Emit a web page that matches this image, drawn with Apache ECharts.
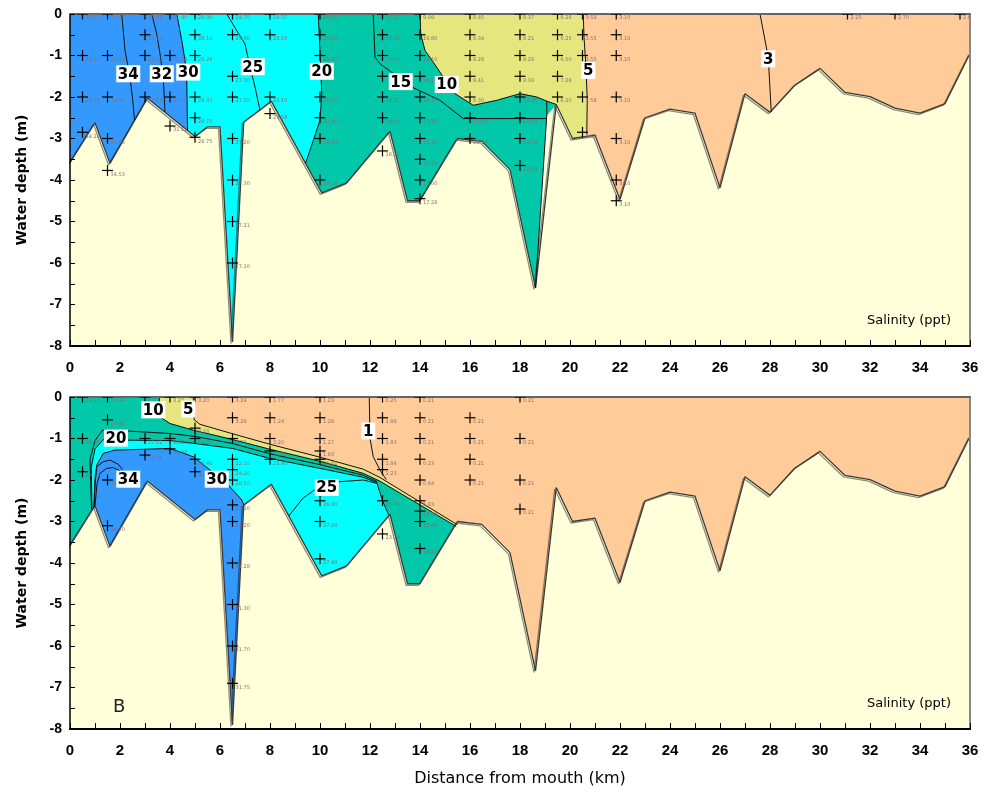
<!DOCTYPE html>
<html>
<head>
<meta charset="utf-8">
<script src="https://cdn.jsdelivr.net/npm/echarts@6/dist/echarts.min.js"></script>
<style>
html,body{margin:0;padding:0;background:#fff}
#chart{width:987px;height:792px}
</style>
</head>
<body>
<div id="chart"></div>
<script>
// ---- Seabed profile along the transect (km from mouth, depth in m) ----
const bedX = [0, 1.0, 1.6, 3.1, 5.0, 5.5, 6.0, 6.5, 6.95, 8.05, 10.07, 11.07, 12.8, 13.5, 14.0, 15.5, 16.47, 17.6, 18.62, 19.45, 20.1, 21.0, 22.0, 23.0, 24.0, 25.0, 26.0, 27.0, 28.0, 29.0, 30.0, 31.0, 32.0, 33.0, 34.0, 35.0, 36.0];
const bedZ = [-3.58, -2.62, -3.6, -2.03, -2.95, -2.72, -2.72, -7.9, -2.6, -2.1, -4.31, -4.07, -2.83, -4.5, -4.5, -3.0, -3.07, -3.75, -6.6, -2.18, -3.0, -2.92, -4.47, -2.5, -2.29, -2.39, -4.19, -1.92, -2.37, -1.71, -1.31, -1.89, -1.99, -2.27, -2.39, -2.16, -0.95];

// ---- Panel A isohalines (salinity contours), [km, depth] ----
const topC34 = [[2.07, 0], [2.2, -0.88], [2.4, -1.52], [2.51, -2.08], [2.58, -2.55]];
const topC32 = [[3.27, 0], [3.47, -0.48], [3.6, -0.96], [3.73, -1.52], [3.8, -2.36]];
const topC30 = [[4.27, 0], [4.47, -0.64], [4.6, -1.12], [4.67, -1.6], [4.7, -2.8]];
const topC25 = [[6.27, 0], [6.67, -0.4], [7.0, -0.72], [7.2, -1.28], [7.4, -1.76], [7.6, -2.32]];
const topC20 = [[9.93, 0], [10.0, -0.88], [10.07, -1.92], [10.0, -2.56], [9.73, -3.05], [9.42, -3.6]];
const topC15 = [[12.13, 0], [12.2, -1.04], [12.4, -1.2], [13.67, -1.76], [14.8, -2.08], [15.73, -2.52], [18.0, -2.52], [19.07, -2.52]];
const topC10 = [[14.0, 0], [14.03, -0.48], [14.2, -0.88], [14.53, -1.16], [14.93, -1.52], [15.4, -1.92], [16.13, -2.2], [17.07, -2.08], [18.0, -1.92], [18.67, -2.0], [19.07, -2.1], [19.45, -2.18]];
const topC5 = [[20.53, 0], [20.56, -0.56], [20.64, -1.28], [20.69, -2.08], [20.67, -2.9]];
const topC3 = [[27.6, 0], [27.93, -1.04], [28.05, -2.36]];
// unsampled pocket beside the deep hole at 18.6 km
const topGap = [[19.07, -2.45], [18.62, -6.6], [19.45, -2.18]];
const topGapEdge = [[19.07, -2.1], [19.07, -2.45], [18.62, -6.6]];

// ---- Panel B isohalines ----
const botC5 = [[4.93, 0], [4.97, -0.55], [5.2, -0.66], [6.47, -0.88], [8.0, -1.14], [10.0, -1.45], [11.73, -1.74], [12.4, -1.94], [15.5, -3.08]];
const botC10 = [[3.57, 0], [3.6, -0.48], [4.0, -0.64], [4.93, -0.8], [6.47, -1.02], [8.0, -1.26], [10.0, -1.55], [11.73, -1.84], [12.4, -2.03], [15.45, -3.12]];
const botC15 = [[0.86, -2.7], [0.8, -1.5], [1.0, -1.05], [1.3, -0.8], [2.3, -0.82], [4.0, -0.88], [5.0, -0.95], [6.5, -1.12], [8.0, -1.37], [10.0, -1.63], [11.7, -1.88], [12.3, -2.04]];
const botC20 = [[0.88, -2.73], [0.85, -1.7], [1.0, -1.25], [1.35, -1.02], [2.3, -1.04], [4.0, -1.05], [5.0, -1.12], [6.5, -1.24], [8.0, -1.48], [10.0, -1.72], [11.7, -1.93], [12.27, -2.06], [12.5, -2.5], [12.75, -2.85]];
const botC25 = [[8.75, -2.87], [9.3, -2.45], [9.87, -2.2], [10.8, -2.04], [11.73, -2.0], [12.27, -2.08]];
const botC30 = [[0.95, -2.67], [1.0, -2.0], [1.07, -1.64], [1.33, -1.36], [1.8, -1.28], [2.93, -1.26], [4.0, -1.24], [4.93, -1.44], [5.6, -1.76], [6.27, -2.08], [6.87, -2.48], [6.95, -2.6]];
const botC32 = [[0.97, -2.64], [1.0, -2.1], [1.07, -1.68], [1.33, -1.56], [1.6, -1.52], [1.93, -1.62], [2.1, -1.75]];
const botC34 = [[1.0, -2.62], [1.08, -2.1], [1.2, -1.84], [1.47, -1.72], [1.73, -1.7], [2.07, -1.8], [2.2, -1.95]];
const botC1 = [[11.97, 0], [12.0, -1.0], [12.13, -1.44], [12.4, -1.76], [12.65, -1.99]];

// ---- Contour labels ----
const topLabX = [2.33, 3.67, 4.73, 7.31, 10.07, 13.23, 15.07, 20.73, 27.93];
const topLabZ = [-1.44, -1.44, -1.4, -1.27, -1.38, -1.63, -1.7, -1.36, -1.08];
const topLabT = ['34', '32', '30', '25', '20', '15', '10', '5', '3'];
const botLabX = [3.33, 4.73, 1.84, 2.33, 5.87, 10.27, 11.93];
const botLabZ = [-0.31, -0.29, -0.99, -1.98, -1.98, -2.18, -0.82];
const botLabT = ['10', '5', '20', '34', '30', '25', '1'];

// ---- Sampling stations: distance, sample depths, measured salinity ----
const topStnX = [0.5, 1.5, 3, 4, 5, 6.5, 8, 10, 12.5, 14, 16, 18, 19.5, 20.5, 21.85, 31.1, 33.0, 35.6];
const topStnZ = [
  [0, -1, -2, -2.85], [0, -1, -2, -3, -3.77], [0, -0.5, -1, -2], [0, -1, -2, -2.7],
  [0, -0.5, -1, -2, -2.5, -2.97], [0, -0.5, -1.5, -2, -3, -4, -5, -6], [0, -0.5, -2, -2.4],
  [0, -0.5, -1, -2, -2.5, -3, -4], [0, -0.5, -1, -1.5, -2, -2.5, -3.3],
  [0, -0.5, -1, -1.5, -2, -2.5, -3, -3.5, -4, -4.45], [0, -0.5, -1, -1.5, -2, -2.5, -3],
  [0, -0.5, -1, -1.5, -2, -2.5, -3, -3.65], [0, -0.5, -1, -1.5, -2], [0, -0.5, -1, -2, -2.85],
  [0, -0.5, -1, -2, -3, -4, -4.5], [0], [0], [0]
];
const topStnS = [
  [34.71, 34.20, 34.21, 34.28], [34.45, 34.03, 34.37, 34.03, 34.53], [33.83, 33.74, 33.60, 33.81], [31.40, 31.20, 31.00, 31.12],
  [28.30, 28.14, 28.28, 28.37, 28.75, 28.75], [24.75, 25.90, 27.10, 27.20, 27.20, 27.30, 27.21, 27.10], [23.37, 23.10, 23.10, 23.58],
  [20.20, 20.20, 20.30, 20.10, 20.40, 19.24, 19.24], [15.37, 15.22, 15.40, 16.20, 16.25, 16.55, 18.15],
  [9.99, 10.80, 11.10, 14.20, 16.20, 17.28, 17.30, 17.30, 17.00, 17.28], [8.45, 8.34, 8.28, 8.41, 8.30, 13.53, 13.70],
  [8.37, 8.21, 8.29, 8.33, 13.20, 13.28, 13.28, 13.28], [6.28, 6.25, 6.50, 7.28, 6.20], [3.58, 3.55, 3.55, 3.58, 3.60],
  [3.10, 3.10, 3.10, 3.10, 3.10, 3.10, 3.10], [2.25], [2.70], [2.83]
];
const botStnX = [0.5, 1.5, 3, 4, 5, 6.5, 8, 10, 12.5, 14, 16, 18];
const botStnZ = [
  [0, -1, -1.8], [0, -0.55, -2, -3.1], [0, -1, -1.4], [0, -1, -1.25], [0, -0.75, -1, -1.5, -1.8],
  [0, -0.5, -1, -1.5, -1.75, -2, -2.6, -3, -4, -5, -6, -6.9], [0, -0.5, -1, -1.3, -1.5],
  [0, -0.5, -1, -1.3, -1.5, -2.5, -3, -3.9], [0, -0.5, -1, -1.5, -1.75, -2.5, -3.3],
  [0, -0.5, -1, -1.5, -2, -2.5, -2.75, -3, -3.65], [-0.5, -1, -1.5, -2], [0, -1, -2, -2.7]
];
const botStnS = [
  [13.23, 13.30, 13.80], [13.40, 15.80, 34.20, 34.20], [8.17, 15.62, 33.20], [3.23, 18.25, 31.90], [3.20, 8.33, 18.26, 30.40, 30.60],
  [3.24, 3.28, 8.21, 22.10, 24.20, 28.50, 31.20, 31.20, 31.28, 31.30, 31.70, 31.75], [1.77, 1.24, 3.20, 15.80, 23.80],
  [1.23, 1.28, 1.27, 1.83, 21.81, 26.80, 27.80, 27.40], [0.25, 1.88, 1.83, 1.84, 1.23, 25.70, 23.20],
  [0.21, 0.21, 0.21, 0.23, 0.84, 1.83, 10.90, 18.80, 18.10], [0.21, 0.21, 0.21, 0.21], [0.21, 0.21, 0.21, 0.21]
];

// ---- Salinity class colours ----
const COL_GT30 = '#3399FF';
const COL_20_30 = '#00FFFF';
const COL_10_20 = '#00C8A8';
const COL_5_10 = '#E6E67E';
const COL_LT5 = '#FFCC99';
const COL_BED = '#FFFFDA';

const FONT_TICK = '"Liberation Sans Narrow","Liberation Sans",Arial,sans-serif';
const FONT_TXT = '"DejaVu Sans",sans-serif';
const ZDEEP = -8.5;

// ---- Geometry helpers (data space) ----
const bedLine = bedX.map((x, i) => [x, bedZ[i]]);
const bedMask = bedLine.concat([[36, ZDEEP], [0, ZDEEP]]);
const fullRect = [[0, 0], [36, 0], [36, ZDEEP], [0, ZDEEP]];
// water on the seaward side of a contour that starts at the surface
const seaward = c => [[0, 0]].concat(c, [[c[c.length - 1][0], ZDEEP], [0, ZDEEP]]);
// water beneath a contour that starts and ends on the bed
const beneath = c => c.concat([[c[c.length - 1][0], ZDEEP], [c[0][0], ZDEEP]]);

function polySeries(g, polys, fills, z) {
  return {
    type: 'custom', xAxisIndex: g * 2, yAxisIndex: g * 2, clip: true, silent: true, z: z,
    data: polys.map((p, i) => i),
    renderItem: function (params, api) {
      const i = params.dataIndex;
      return {
        type: 'polygon',
        shape: { points: polys[i].map(p => api.coord(p)) },
        style: { fill: fills[i], stroke: fills[i] === COL_BED ? null : fills[i], lineWidth: 0.3 }
      };
    }
  };
}

function lineSeries(g, pts, style, z) {
  return {
    type: 'line', xAxisIndex: g * 2, yAxisIndex: g * 2, data: pts, symbol: 'none', showSymbol: false,
    silent: true, z: z, clip: true, lineStyle: style, emphasis: { disabled: true }
  };
}

// Boxed isohaline values
function labelSeries(g, xs, zs, texts) {
  return {
    type: 'custom', xAxisIndex: g * 2, yAxisIndex: g * 2, silent: true, z: 8, clip: false,
    data: xs.map((x, i) => [x, zs[i], i]),
    renderItem: function (params, api) {
      const c = api.coord([api.value(0), api.value(1)]);
      const t = texts[api.value(2)];
      const w = t.length * 10 + 4, h = 17;
      return {
        type: 'group',
        children: [
          { type: 'rect', shape: { x: c[0] - w / 2, y: c[1] - h / 2, width: w, height: h }, style: { fill: '#fff' } },
          { type: 'text', x: c[0], y: c[1] + 1, style: { text: t, fontFamily: FONT_TXT, fontWeight: 'bold', fontSize: 15, fill: '#000', align: 'center', verticalAlign: 'middle' } }
        ]
      };
    }
  };
}

function stationSeries(g, xs, zs, vals) {
  const pts = [];
  xs.forEach((x, i) => zs[i].forEach((z, j) => pts.push([x, z, vals[i][j]])));
  return {
    type: 'custom', xAxisIndex: g * 2, yAxisIndex: g * 2, clip: true, silent: true, z: 7,
    data: pts,
    renderItem: function (params, api) {
      const c = api.coord([api.value(0), api.value(1)]);
      const h = 5.5;
      return {
        type: 'group',
        children: [
          { type: 'line', shape: { x1: c[0] - h, y1: c[1], x2: c[0] + h, y2: c[1] }, style: { stroke: '#000', lineWidth: 1.2 } },
          { type: 'line', shape: { x1: c[0], y1: c[1] - h, x2: c[0], y2: c[1] + h }, style: { stroke: '#000', lineWidth: 1.2 } },
          { type: 'text', x: c[0] + 3, y: c[1] + 1.5, style: { text: api.value(2).toFixed(2), fontSize: 5, fontFamily: FONT_TXT, fill: '#8a6f72' } }
        ]
      };
    }
  };
}

const contourStyle = { color: '#111', width: 1 };
const bedStyle = { color: '#3a3a3a', width: 1.3, shadowColor: 'rgba(0,0,0,0.45)', shadowBlur: 0, shadowOffsetX: -1.5, shadowOffsetY: 1.5 };

function xAxes(g, named) {
  return [
    {
      type: 'value', gridIndex: g, min: 0, max: 36, interval: 2, position: 'bottom', z: 6,
      axisLine: { show: true, onZero: false, lineStyle: { color: '#000', width: 2 } },
      axisTick: { show: true, inside: true, length: 6, lineStyle: { color: '#000', width: 1 } },
      minorTick: { show: true, splitNumber: 2, length: 6, lineStyle: { color: '#000', width: 1 } },
      axisLabel: { color: '#000', fontFamily: FONT_TICK, fontWeight: 'bold', fontSize: 15, margin: 14 },
      splitLine: { show: false }, minorSplitLine: { show: false },
      name: named ? 'Distance from mouth (km)' : '', nameLocation: 'middle', nameGap: 42,
      nameTextStyle: { color: '#000', fontFamily: FONT_TXT, fontSize: 16 }
    },
    {
      type: 'value', gridIndex: g, min: 0, max: 36, position: 'top', z: 6,
      axisLine: { show: true, onZero: false, lineStyle: { color: '#666', width: 2 } },
      axisTick: { show: false }, axisLabel: { show: false }, splitLine: { show: false }
    }
  ];
}
function yAxes(g) {
  return [
    {
      type: 'value', gridIndex: g, min: -8, max: 0, interval: 1, position: 'left', z: 6,
      axisLine: { show: true, onZero: false, lineStyle: { color: '#000', width: 1.5 } },
      axisTick: { show: true, inside: true, length: 5, lineStyle: { color: '#000', width: 1 } },
      minorTick: { show: true, splitNumber: 2, length: 5, lineStyle: { color: '#000', width: 1 } },
      axisLabel: { color: '#000', fontFamily: FONT_TICK, fontWeight: 'bold', fontSize: 14, margin: 8 },
      splitLine: { show: false }, minorSplitLine: { show: false },
      name: 'Water depth (m)', nameLocation: 'middle', nameGap: 41, nameRotate: 90,
      nameTextStyle: { color: '#000', fontFamily: FONT_TXT, fontWeight: 'bold', fontSize: 14 }
    },
    {
      type: 'value', gridIndex: g, min: -8, max: 0, position: 'right', z: 6,
      axisLine: { show: true, onZero: false, lineStyle: { color: '#888', width: 2 } },
      axisTick: { show: false }, axisLabel: { show: false }, splitLine: { show: false }
    }
  ];
}

const series = [
  // Panel A: salinity classes, seabed, isohalines
  polySeries(0,
    [fullRect, seaward(topC5), seaward(topC10), seaward(topC20), seaward(topC30), bedMask, topGap],
    [COL_LT5, COL_5_10, COL_10_20, COL_20_30, COL_GT30, COL_BED, COL_BED], 2),
  lineSeries(0, bedLine, bedStyle, 4),
  lineSeries(0, topGapEdge, contourStyle, 5),
  ...[topC34, topC32, topC30, topC25, topC20, topC15, topC10, topC5, topC3].map(c => lineSeries(0, c, contourStyle, 5)),
  stationSeries(0, topStnX, topStnZ, topStnS),
  labelSeries(0, topLabX, topLabZ, topLabT),

  // Panel B
  polySeries(1,
    [fullRect, seaward(botC5), seaward(botC10), beneath(botC20), beneath(botC30), bedMask],
    [COL_LT5, COL_5_10, COL_10_20, COL_20_30, COL_GT30, COL_BED], 2),
  lineSeries(1, bedLine, bedStyle, 4),
  ...[botC5, botC10, botC15, botC20, botC25, botC30, botC32, botC34, botC1].map(c => lineSeries(1, c, contourStyle, 5)),
  stationSeries(1, botStnX, botStnZ, botStnS),
  labelSeries(1, botLabX, botLabZ, botLabT)
];

const chart = echarts.init(document.getElementById('chart'), null, { renderer: 'canvas' });
chart.setOption({
  animation: false,
  backgroundColor: '#fff',
  grid: [
    { left: 70, top: 14, width: 900, height: 332, show: false },
    { left: 70, top: 397, width: 900, height: 332, show: false }
  ],
  xAxis: xAxes(0, false).concat(xAxes(1, true)),
  yAxis: yAxes(0).concat(yAxes(1)),
  series: series,
  graphic: [
    { type: 'text', right: 36, top: 314, z: 20, style: { text: 'Salinity (ppt)', fontFamily: FONT_TXT, fontSize: 13, fill: '#000' } },
    { type: 'text', right: 36, top: 697, z: 20, style: { text: 'Salinity (ppt)', fontFamily: FONT_TXT, fontSize: 13, fill: '#000' } },
    { type: 'text', left: 113, top: 698, z: 20, style: { text: 'B', fontFamily: FONT_TXT, fontSize: 18, fill: '#222' } }
  ]
});
</script>
</body>
</html>
